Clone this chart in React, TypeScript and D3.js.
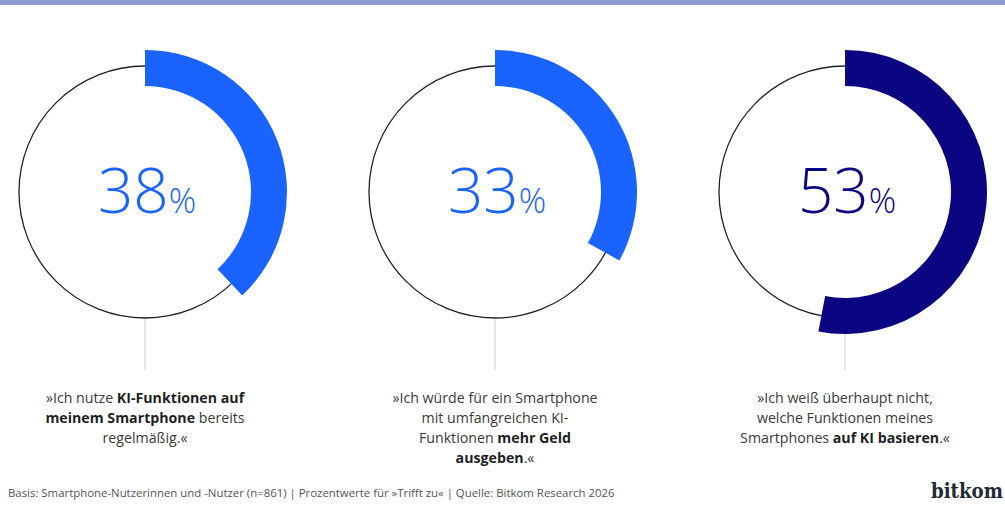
import { useEffect, useRef } from "react";
import * as d3 from "d3";

// share of respondents answering "Trifft zu"
const values = [38, 33, 53];
const arcColors = ["#1a63ff", "#1a63ff", "#0c0582"];

type Seg = [string, boolean];
const statements: Seg[][][] = [
  [
    [["»Ich nutze ", false], ["KI-Funktionen auf", true]],
    [["meinem Smartphone", true], [" bereits", false]],
    [["regelmäßig.«", false]],
  ],
  [
    [["»Ich würde für ein Smartphone", false]],
    [["mit umfangreichen KI-", false]],
    [["Funktionen ", false], ["mehr Geld", true]],
    [["ausgeben", true], [".«", false]],
  ],
  [
    [["»Ich weiß überhaupt nicht,", false]],
    [["welche Funktionen meines", false]],
    [["Smartphones ", false], ["auf KI basieren", true], [".«", false]],
  ],
];

const footnote =
  "Basis: Smartphone-Nutzerinnen und -Nutzer (n=861) | Prozentwerte für »Trifft zu« | Quelle: Bitkom Research 2026";

const W = 1005;
const H = 515;

export default function App() {
  const svgRef = useRef<SVGSVGElement>(null);

  useEffect(() => {
    const svg = d3.select(svgRef.current);
    svg.selectAll("*").remove();
    svg.attr("width", W).attr("height", H);

    svg.append("rect").attr("x", 0).attr("y", 0).attr("width", W).attr("height", H).attr("fill", "#fff");
    svg.append("rect").attr("x", 0).attr("y", 0).attr("width", W).attr("height", 5).attr("fill", "#8d9bd0");

    const cx = d3.scalePoint<number>().domain(values.map((_, i) => i)).range([145, 845]);
    const cy = 192;
    const ang = d3.scaleLinear().domain([0, 100]).range([0, 2 * Math.PI]);
    const ringR = 126;
    const arc = d3.arc<number>().innerRadius(106).outerRadius(142).startAngle(0).endAngle((d) => ang(d));

    const g = svg
      .selectAll("g.donut")
      .data(values)
      .join("g")
      .attr("class", "donut")
      .attr("transform", (_, i) => `translate(${cx(i)},${cy})`);

    g.append("line")
      .attr("x1", 0)
      .attr("x2", 0)
      .attr("y1", ringR)
      .attr("y2", 178)
      .attr("stroke", "#cfcfcf")
      .attr("stroke-width", 1);

    g.append("circle")
      .attr("r", ringR)
      .attr("fill", "none")
      .attr("stroke", "#222")
      .attr("stroke-width", 1.3);

    g.append("path")
      .attr("d", (d) => arc(d) ?? "")
      .attr("fill", (_, i) => arcColors[i]);

    const num = g
      .append("text")
      .attr("x", 2)
      .attr("y", 21)
      .attr("text-anchor", "middle")
      .attr("font-family", "'Open Sans', 'Noto Sans', sans-serif")
      .attr("font-weight", 300)
      .attr("fill", (_, i) => arcColors[i]);
    num.append("tspan").attr("font-size", 62).text((d) => String(d));
    num.append("tspan").attr("font-size", 34).attr("dx", 0).text("%");

    const lbl = g
      .append("text")
      .attr("text-anchor", "middle")
      .attr("font-family", "'Open Sans', 'Noto Sans', sans-serif")
      .attr("font-size", 14.2)
      .attr("fill", "#3a3a3a");

    lbl.each(function (_, i) {
      const t = d3.select(this);
      statements[i].forEach((line, li) => {
        const tl = t.append("tspan").attr("x", 0).attr("y", 211 + li * 20);
        line.forEach(([txt, bold]) => {
          tl.append("tspan")
            .attr("font-weight", bold ? 700 : 400)
            .attr("fill", bold ? "#1f1f1f" : "#3a3a3a")
            .text(txt);
        });
      });
    });

    svg
      .append("text")
      .attr("x", 8)
      .attr("y", 497)
      .attr("font-family", "'Open Sans', 'Noto Sans', sans-serif")
      .attr("font-size", 11.4)
      .attr("fill", "#555")
      .text(footnote);

    // logo word, squeezed so it ends just at the right edge
    svg
      .append("text")
      .attr("x", 931)
      .attr("y", 498)
      .attr("font-family", "'DejaVu Serif', serif")
      .attr("font-weight", 700)
      .attr("font-size", 20)
      .attr("textLength", 72)
      .attr("lengthAdjust", "spacingAndGlyphs")
      .attr("fill", "#1e2a35")
      .text("bitkom");
  }, []);

  return <svg ref={svgRef} style={{ position: "absolute", left: 0, top: 0, display: "block" }} />;
}
